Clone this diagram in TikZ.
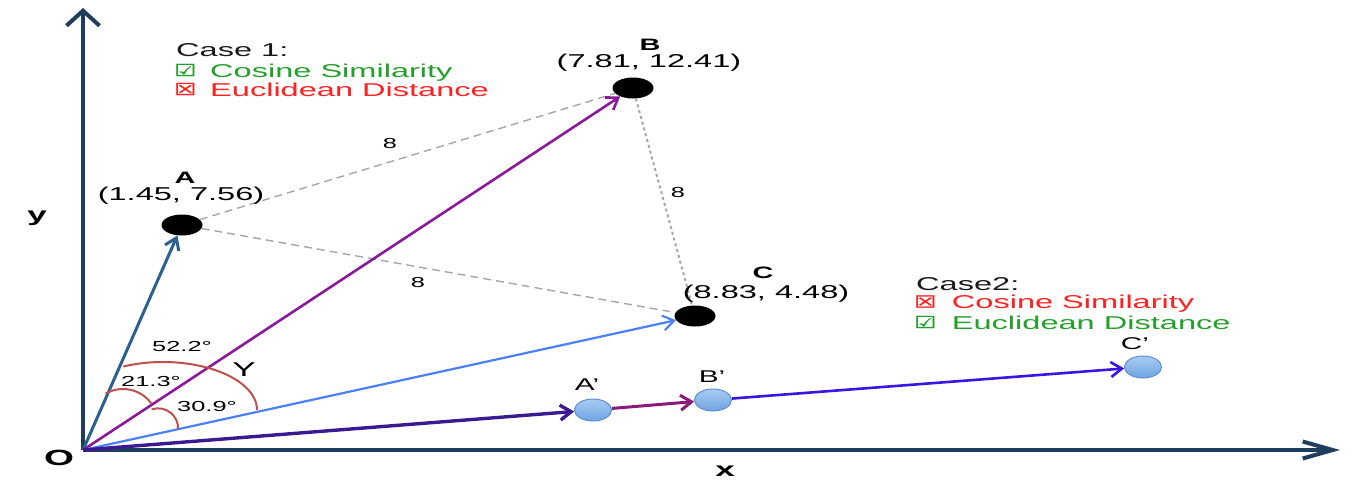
\documentclass[tikz,border=0pt]{standalone}
\usepackage{fontspec}
\setmainfont[FakeStretch=1.75]{Liberation Sans}
\newfontfamily\symf[FakeStretch=1.5,FakeBold=1.5]{DejaVu Sans}
\usetikzlibrary{arrows.meta,shapes.geometric}
\definecolor{axisc}{HTML}{1F3D5C}
\definecolor{cOA}{HTML}{2B6090}
\definecolor{cOB}{HTML}{8A1A9A}
\definecolor{cOC}{HTML}{4A80FF}
\definecolor{cOAp}{HTML}{3A1A90}
\definecolor{cApBp}{HTML}{8A1A7A}
\definecolor{cBpCp}{HTML}{3A14E6}
\definecolor{dashc}{HTML}{A6A6A6}
\definecolor{arcc}{HTML}{C0504D}
\definecolor{okc}{HTML}{22A02A}
\definecolor{noc}{HTML}{FF2020}
\definecolor{ptop}{HTML}{A8CCF2}
\definecolor{pbot}{HTML}{6FA3E3}
\definecolor{pbord}{HTML}{5B8FD0}
\begin{document}
\begin{tikzpicture}[x=1pt,y=-1pt,
  dot/.style={ellipse,fill=black,minimum width=41pt,minimum height=21pt,inner sep=0pt},
  pdot/.style={ellipse,draw=pbord,line width=1pt,top color=ptop,bottom color=pbot,minimum width=37pt,minimum height=22pt,inner sep=0pt},
  axisline/.style={draw=axisc,line width=4pt},
  vec/.style={line width=2.6pt,-{Straight Barb[length=11pt,width=15pt]}},
  dist/.style={draw=dashc,line width=1.4pt,dash pattern=on 8pt off 5pt},
  distdot/.style={draw=dashc,line width=2pt,dash pattern=on 3pt off 3pt},
  angarc/.style={draw=arcc,line width=2pt},
  txt/.style={inner sep=0pt,anchor=base},
  ltxt/.style={inner sep=0pt,anchor=base west},
  fbig/.style={font=\fontsize{18.6}{21}\selectfont},
  fbox/.style={font=\fontsize{16.5}{18}\symf},
  fsmall/.style={font=\fontsize{14.5}{16}\selectfont},
  flab/.style={font=\fontsize{16.5}{18}\selectfont\bfseries}]
\useasboundingbox (0,0) rectangle (1354,488);
% axes
\coordinate (O) at (83,450);
\coordinate (ytip) at (83,8);
\coordinate (xtip) at (1340,450);
\draw[axisline,-{Straight Barb[length=15pt,width=33pt]}] (O) -- (ytip);
\draw[axisline,-{Straight Barb[length=30pt,width=17pt]}] (O) -- (xtip);
% points
\node[dot] (A) at (182,225) {};
\node[dot] (B) at (633,88) {};
\node[dot] (C) at (695,316) {};
\node[pdot] (Ap) at (593,410) {};
\node[pdot] (Bp) at (713,400) {};
\node[pdot] (Cp) at (1143,367) {};
% distances
\draw[dist] (A) -- (B);
\draw[dist] (A) -- (C);
\draw[distdot] (B) -- (C);
\node[txt,fsmall] (d1) at (390,148) {8};
\node[txt,fsmall] (d2) at (678,197) {8};
\node[txt,fsmall] (d3) at (418,287) {8};
% vectors
\draw[vec,cOA,line width=3pt] (O) -- (A);
\draw[vec,cOB] (O) -- (B);
\draw[vec,cOC,line width=2.2pt] (O) -- (C);
\draw[vec,cOAp,line width=3.4pt] (O) -- (Ap);
\draw[vec,cApBp,line width=3pt] (Ap) -- (Bp);
\draw[vec,cBpCp,line width=2.6pt] (Bp) -- (Cp);
% angle arcs
\draw[angarc] (123.3,366.5) arc[start angle=-115,end angle=0,x radius=94,y radius=48];
\draw[angarc] (105.5,393.7) arc[start angle=-120,end angle=-36,radius=35];
\draw[angarc] (151.6,409.4) arc[start angle=-109,end angle=2,radius=20];
\node[txt,fsmall] (a1) at (182,351.7) {52.2°};
\node[txt,fsmall] (a2) at (151,386.7) {21.3°};
\node[txt,fsmall] (a3) at (207,411.7) {30.9°};
\node[txt,font=\fontsize{20}{22}\selectfont] (gam) at (244,376) {Y};
% labels
\node[txt,flab] (lA) at (185,183) {A};
\node[txt,fbig] (cA) at (181,200) {(1.45, 7.56)};
\node[txt,flab] (lB) at (650,50) {B};
\node[txt,fbig] (cB) at (649,67) {(7.81, 12.41)};
\node[txt,flab] (lC) at (763,278) {C};
\node[txt,fbig] (cC) at (766,298) {(8.83, 4.48)};
\node[txt,font=\fontsize{17}{18}\selectfont] (lAp) at (587,390) {A'};
\node[txt,font=\fontsize{17}{18}\selectfont] (lBp) at (712,382) {B'};
\node[txt,font=\fontsize{17}{18}\selectfont] (lCp) at (1135,349) {C'};
\node[txt,font=\fontsize{20}{22}\selectfont\bfseries] (ly) at (37,221) {y};
\node[txt,font=\fontsize{20}{22}\selectfont\bfseries] (lx) at (725,476) {x};
\node[txt,font=\fontsize{22}{24}\selectfont\bfseries] (lO) at (59,465) {O};
% case 1
\node[ltxt,fbig,text=black!90] (c1) at (176,56) {Case 1:};
\node[ltxt,fbox,text=okc] (c1b1) at (174,76) {☑};
\node[ltxt,fbig,text=okc] (c1t1) at (210,77) {Cosine Similarity};
\node[ltxt,fbox,text=noc] (c1b2) at (174,95) {☒};
\node[ltxt,fbig,text=noc] (c1t2) at (210,96) {Euclidean Distance};
% case 2
\node[ltxt,fbig,text=black!90] (c2) at (916,290) {Case2:};
\node[ltxt,fbox,text=noc] (c2b1) at (914,307.5) {☒};
\node[ltxt,fbig,text=noc] (c2t1) at (951.7,308.5) {Cosine Similarity};
\node[ltxt,fbox,text=okc] (c2b2) at (914,328) {☑};
\node[ltxt,fbig,text=okc] (c2t2) at (951.7,329) {Euclidean Distance};
\end{tikzpicture}
\end{document}
